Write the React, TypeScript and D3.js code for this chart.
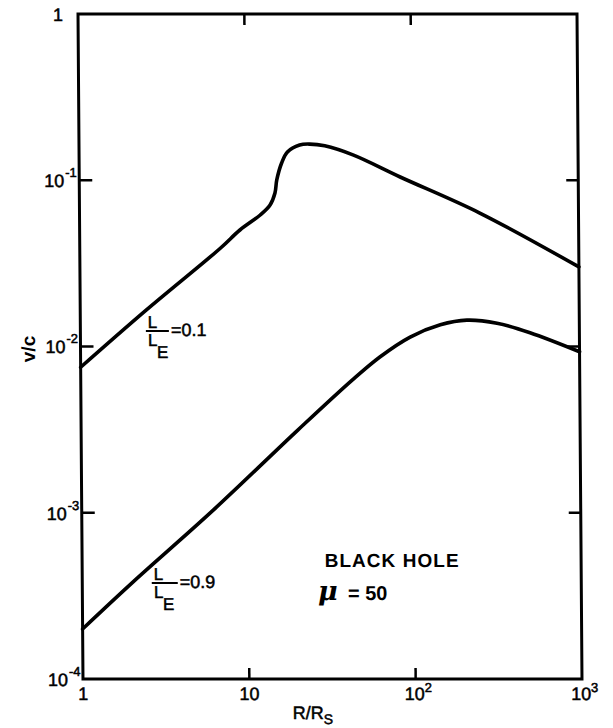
import React, { useEffect, useRef } from "react";
import * as d3 from "d3";

// R/Rs values and v/c
const rLow = [1, 2.5, 7, 9.2, 12.2, 14, 15, 15.4, 16.5, 17.9, 21.2, 24.4, 30, 44.3, 85, 255, 1000];
const vLow = [0.0075, 0.0166, 0.039, 0.0502, 0.0618, 0.071, 0.0838, 0.1004, 0.127, 0.148, 0.163, 0.165, 0.161, 0.142, 0.1046, 0.0635, 0.0301];

const rHigh = [1, 2, 6.2, 20, 43, 63, 96, 146, 211, 320, 505, 1000];
const vHigh = [2.0e-4, 3.8e-4, 1.04e-3, 3.13e-3, 6.3e-3, 8.65e-3, 1.14e-2, 1.35e-2, 1.44e-2, 1.38e-2, 1.21e-2, 9.3e-3];

const xTicks = [1, 10, 100, 1000];
const xLabelBase = ["1", "10", "10", "10"];
const xLabelSup = ["", "", "2", "3"];

const yTicks = [1e-4, 1e-3, 1e-2, 1e-1, 1];
const yLabelBase = ["10", "10", "10", "10", "1"];
const yLabelSup = ["-4", "-3", "-2", "-1", ""];

const FONT = "'Liberation Sans', Arial, Helvetica, sans-serif";

export default function App() {
  const ref = useRef<SVGSVGElement>(null);

  useEffect(() => {
    const W = 613, H = 728;
    const left = 80.5, right = 579.5, top = 14, bottom = 679;
    const svg = d3.select(ref.current);
    svg.selectAll("*").remove();

    // the scan is a little skewed: left edge leans by ~5px over the height
    const k = 0.0075;
    const yc = (top + bottom) / 2;
    const g = svg.append("g").attr("transform", `matrix(1,0,${k},1,${-k * yc},0)`);

    const x = d3.scaleLog().domain([1, 1000]).range([left, right]);
    const y = d3.scaleLog().domain([1e-4, 1]).range([bottom, top]);

    // frame
    g.append("rect")
      .attr("x", left).attr("y", top)
      .attr("width", right - left).attr("height", bottom - top)
      .attr("fill", "none").attr("stroke", "#000").attr("stroke-width", 3);

    // inner ticks
    const inner = [1e-3, 1e-2, 1e-1];
    inner.forEach((v) => {
      g.append("line").attr("x1", left).attr("x2", left + 13).attr("y1", y(v)).attr("y2", y(v))
        .attr("stroke", "#000").attr("stroke-width", 2.5);
      g.append("line").attr("x1", right).attr("x2", right - 12).attr("y1", y(v)).attr("y2", y(v))
        .attr("stroke", "#000").attr("stroke-width", 2.5);
    });
    [10, 100].forEach((r) => {
      g.append("line").attr("x1", x(r)).attr("x2", x(r)).attr("y1", bottom).attr("y2", bottom - 11)
        .attr("stroke", "#000").attr("stroke-width", 2.5);
      g.append("line").attr("x1", x(r)).attr("x2", x(r)).attr("y1", top).attr("y2", top + 11)
        .attr("stroke", "#000").attr("stroke-width", 2.5);
    });

    // slightly heavier text, like the printed original
    const ink = (sel: any) => sel.attr("fill", "#000").attr("stroke", "#000").attr("stroke-width", 0.5);

    // x tick labels
    xTicks.forEach((r, i) => {
      const t = g.append("text")
        .attr("y", bottom + 21)
        .attr("font-family", FONT).attr("font-size", 18);
      ink(t);
      if (xLabelSup[i]) {
        t.attr("x", x(r) - 11).attr("text-anchor", "start");
        t.append("tspan").text(xLabelBase[i]);
        t.append("tspan").attr("dy", -8).attr("font-size", 13).text(xLabelSup[i]);
      } else {
        t.attr("x", x(r)).attr("text-anchor", "middle").text(xLabelBase[i]);
      }
    });

    // y tick labels
    yTicks.forEach((v, i) => {
      const t = g.append("text")
        .attr("y", y(v) + 7)
        .attr("font-family", FONT).attr("font-size", 18);
      ink(t);
      if (yLabelSup[i]) {
        t.attr("x", left - 35).attr("text-anchor", "start");
        t.append("tspan").text(yLabelBase[i]);
        t.append("tspan").attr("dx", 1).attr("dy", -10).attr("font-size", 13).text(yLabelSup[i]);
      } else {
        t.attr("x", left - 15).attr("text-anchor", "end").text(yLabelBase[i]);
      }
    });

    // axis titles
    const xt = g.append("text")
      .attr("x", 290).attr("y", 719)
      .attr("font-family", FONT).attr("font-size", 18);
    ink(xt);
    xt.append("tspan").text("R/R");
    xt.append("tspan").attr("dy", 5).attr("font-size", 14).text("S");

    g.append("text")
      .attr("transform", "translate(35,349) rotate(-90)")
      .attr("text-anchor", "middle")
      .attr("font-family", FONT).attr("font-size", 19).attr("font-weight", "bold")
      .attr("fill", "#000").text("v/c");

    // curves
    const line = d3.line<[number, number]>()
      .x((d) => x(d[0]))
      .y((d) => y(d[1]))
      .curve(d3.curveCatmullRom.alpha(0.5));

    const series = [
      rLow.map((r, i) => [r, vLow[i]] as [number, number]),
      rHigh.map((r, i) => [r, vHigh[i]] as [number, number]),
    ];
    series.forEach((s) => {
      g.append("path").attr("d", line(s))
        .attr("fill", "none").attr("stroke", "#000")
        .attr("stroke-width", 3.6).attr("stroke-linejoin", "round").attr("stroke-linecap", "round");
    });

    // curve labels  L/L_E = ...
    const frac = (x0: number, yBar: number, w: number, value: string) => {
      const lg = g.append("g").attr("font-family", FONT);
      ink(lg);
      lg.append("text").attr("x", x0 + 1).attr("y", yBar - 3).attr("font-size", 17).text("L");
      lg.append("line").attr("x1", x0 - 1).attr("x2", x0 + w).attr("y1", yBar).attr("y2", yBar)
        .attr("stroke", "#000").attr("stroke-width", 2);
      lg.append("text").attr("x", x0 + 1).attr("y", yBar + 15).attr("font-size", 17).text("L");
      lg.append("text").attr("x", x0 + 10).attr("y", yBar + 27).attr("font-size", 17).text("E");
      lg.append("text").attr("x", x0 + w + 2).attr("y", yBar + 5).attr("font-size", 18).text(value);
    };
    frac(147, 331, 22, "=0.1");
    frac(151, 583, 25, "=0.9");

    g.append("text")
      .attr("x", 323).attr("y", 567)
      .attr("font-family", FONT).attr("font-size", 19).attr("font-weight", "bold")
      .attr("textLength", 134).attr("lengthAdjust", "spacing")
      .attr("fill", "#000").text("BLACK  HOLE");

    g.append("text")
      .attr("x", 316).attr("y", 600)
      .attr("font-family", "'DejaVu Serif', serif").attr("font-size", 27)
      .attr("font-style", "italic").attr("font-weight", "bold")
      .attr("fill", "#000").text("μ");
    g.append("text")
      .attr("x", 346).attr("y", 600)
      .attr("font-family", FONT).attr("font-size", 20).attr("font-weight", "bold")
      .attr("fill", "#000").text("= 50");

    svg.attr("width", W).attr("height", H);
  }, []);

  return (
    <svg
      ref={ref}
      width={613}
      height={728}
      style={{ position: "absolute", left: 0, top: 0, background: "#fff" }}
    />
  );
}
